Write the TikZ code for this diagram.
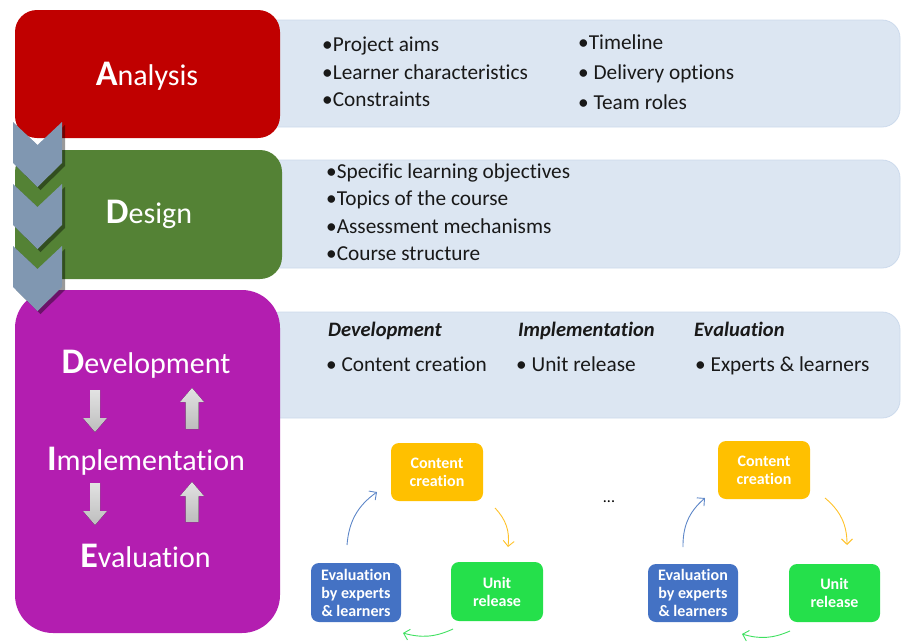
\documentclass[tikz,border=0pt]{standalone}
\usepackage{fontspec}
\setmainfont{Carlito}[Ligatures={NoCommon,NoRare}]
\usetikzlibrary{arrows.meta,shadows}
\definecolor{cRed}{HTML}{C00000}
\definecolor{cGreen}{HTML}{548235}
\definecolor{cPurple}{HTML}{B31EB0}
\definecolor{cPanel}{HTML}{DCE6F2}
\definecolor{cPanelEdge}{HTML}{CCDAEC}
\definecolor{cChev}{HTML}{8097B1}
\definecolor{cYellow}{HTML}{FFC000}
\definecolor{cLime}{HTML}{25E04B}
\definecolor{cBlue}{HTML}{4472C4}
\definecolor{cBlueArr}{HTML}{5E87C8}
\definecolor{cYellowArr}{HTML}{FFC22A}
\definecolor{cGreenArr}{HTML}{3FE060}
\definecolor{cGrayTop}{HTML}{E2E2E2}
\definecolor{cGrayBot}{HTML}{BDBDBD}
\begin{document}
\begin{tikzpicture}[x=1pt,y=-1pt,
  phase/.style={rounded corners=22pt, inner sep=0pt},
  panel/.style={fill=cPanel, draw=cPanelEdge, line width=0.8pt, rounded corners=18pt, inner sep=0pt},
  title/.style={text=white, anchor=base, inner sep=0pt, font=\fontsize{30}{36}\selectfont},
  bul/.style={anchor=base west, inner sep=0pt, font=\fontsize{21.3}{25}\selectfont, text=black!90},
  hdr/.style={anchor=base west, inner sep=0pt, font=\fontsize{20.5}{24}\selectfont\bfseries\itshape, text=black!90},
  cyc/.style={rounded corners=8pt, text=white, font=\fontsize{16}{18}\selectfont\bfseries, align=center, inner sep=0pt, minimum width=92pt, minimum height=58pt},
  cyarr/.style={line width=0.9pt, -{Straight Barb[length=5.5pt,width=11pt]}},
  garrow/.style={top color=cGrayTop, bottom color=cGrayBot},
  chev/.style={fill=cChev, drop shadow={shadow xshift=3pt, shadow yshift=-3pt, opacity=0.4, fill=black}}
]
\useasboundingbox (0,0) rectangle (904,643);

% panels
\node[panel, minimum width=640pt, minimum height=107pt] (P1) at (580,73.5) {};
\node[panel, minimum width=638pt, minimum height=108pt] (P2) at (581,214) {};
\node[panel, minimum width=638pt, minimum height=106pt] (P3) at (581,365) {};

% phase boxes
\node[phase, fill=cRed, minimum width=265pt, minimum height=128pt] (A) at (147.5,74) {};
\node[phase, fill=cGreen, minimum width=267pt, minimum height=129pt] (D) at (148.5,214.5) {};
\node[phase, fill=cPurple, rounded corners=38pt, minimum width=265pt, minimum height=343pt] (P) at (147.5,461.5) {};

% titles
\node[title] (tA) at (147,85) {{\fontsize{36}{36}\selectfont\bfseries A}nalysis};
\node[title] (tD) at (149,223) {{\fontsize{36}{36}\selectfont\bfseries D}esign};
\node[title] (tDev) at (146,373) {{\fontsize{36}{36}\selectfont\bfseries D}evelopment};
\node[title] (tImp) at (146,470) {{\fontsize{36}{36}\selectfont\bfseries I}mplementation};
\node[title] (tEva) at (145.5,567) {{\fontsize{36}{36}\selectfont\bfseries E}valuation};

% gray arrows in purple box
\fill[garrow] (90,390) -- (100,390) -- (100,418) -- (107,418) -- (95,432) -- (83,418) -- (90,418) -- cycle;
\fill[garrow] (192,388) -- (204,402) -- (198.5,402) -- (198.5,429) -- (185.5,429) -- (185.5,402) -- (180,402) -- cycle;
\fill[garrow] (90,483) -- (100,483) -- (100,511) -- (107,511) -- (95,525) -- (83,511) -- (90,511) -- cycle;
\fill[garrow] (192,482) -- (204,496) -- (198.5,496) -- (198.5,522) -- (185.5,522) -- (185.5,496) -- (180,496) -- cycle;

% chevrons
\foreach \t in {122,184,246}{
  \fill[chev] (13,\t) -- (37.5,\t+23) -- (62,\t) -- (62,\t+41) -- (37.5,\t+65) -- (13,\t+41) -- cycle;
}

% panel 1 text
\node[bul] (a1) at (322,51) {•Project aims};
\node[bul] (a2) at (322,79) {•Learner characteristics};
\node[bul] (a3) at (322,106) {•Constraints};
\node[bul] (a4) at (578,49) {•Timeline};
\node[bul] (a5) at (578,79) {• Delivery options};
\node[bul] (a6) at (578,109) {• Team roles};

% panel 2 text
\node[bul] (d1) at (326,178) {•Specific learning objectives};
\node[bul] (d2) at (326,205) {•Topics of the course};
\node[bul] (d3) at (326,233) {•Assessment mechanisms};
\node[bul] (d4) at (326,260) {•Course structure};

% panel 3 text
\node[hdr] (h1) at (328,336) {Development};
\node[hdr] (h2) at (518,336) {Implementation};
\node[hdr] (h3) at (694,336) {Evaluation};
\node[bul] (b1) at (326,371) {• Content creation};
\node[bul] (b2) at (516,371) {• Unit release};
\node[bul] (b3) at (695,371) {• Experts \& learners};

% cycle 1
\node[cyc, fill=cYellow] (C1) at (437,472) {Content\\creation};
\node[cyc, fill=cLime, minimum height=59pt] (U1) at (497,591.5) {Unit\\release};
\node[cyc, fill=cBlue, minimum width=90pt, minimum height=59pt] (E1) at (356,592.5) {Evaluation\\by experts\\\& learners};
\coordinate (b1s) at (347,545); \coordinate (b1e) at (377,492);
\coordinate (y1s) at (495,508); \coordinate (y1e) at (508,547);
\coordinate (g1s) at (453,629); \coordinate (g1e) at (403,633);
\draw[cyarr, cBlueArr] (b1s) to[bend left=25] (b1e);
\draw[cyarr, cYellowArr] (y1s) to[bend left=25] (y1e);
\draw[cyarr, cGreenArr] (g1s) to[bend left=20] (g1e);

\node[text=black, font=\fontsize{16}{18}\selectfont] (dots) at (609,502) {...};

% cycle 2
\node[cyc, fill=cYellow] (C2) at (764,470) {Content\\creation};
\node[cyc, fill=cLime, minimum width=91pt] (U2) at (834.5,593) {Unit\\release};
\node[cyc, fill=cBlue, minimum width=90pt] (E2) at (693,593) {Evaluation\\by experts\\\& learners};
\coordinate (b2s) at (683,547); \coordinate (b2e) at (705,498);
\coordinate (y2s) at (825,498); \coordinate (y2e) at (847,545);
\coordinate (g2s) at (790,631); \coordinate (g2e) at (742,634);
\draw[cyarr, cBlueArr] (b2s) to[bend left=25] (b2e);
\draw[cyarr, cYellowArr] (y2s) to[bend left=25] (y2e);
\draw[cyarr, cGreenArr] (g2s) to[bend left=20] (g2e);
\end{tikzpicture}
\end{document}
